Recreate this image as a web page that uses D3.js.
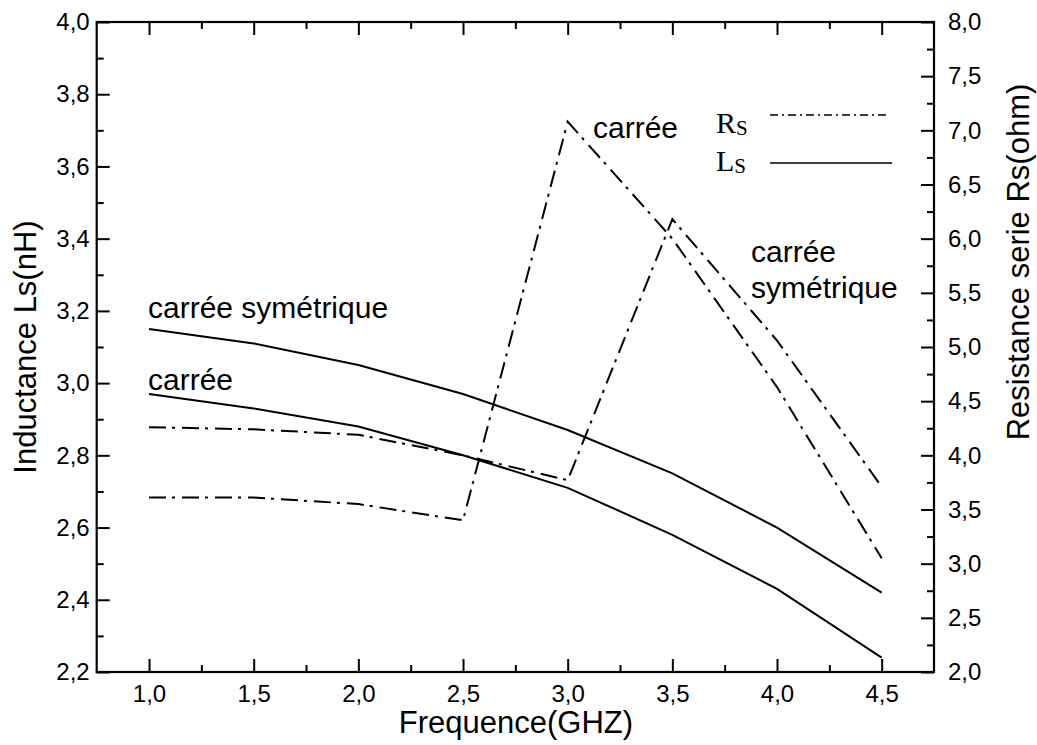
<!DOCTYPE html>
<html>
<head>
<meta charset="utf-8">
<script src="https://cdn.jsdelivr.net/npm/d3@7"></script>
<style>
  html, body { margin: 0; padding: 0; background: #fff; }
  svg { display: block; }
  text { font-family: "Liberation Sans", Arial, sans-serif; fill: #000; }
</style>
</head>
<body>
<svg id="chart" width="1037" height="745"></svg>
<script>
// Frequencies (GHz)
const freq = [1.0, 1.5, 2.0, 2.5, 3.0, 3.5, 4.0, 4.5];
// Series inductance Ls (nH)
const lsCarreeSym = [3.15, 3.11, 3.05, 2.97, 2.87, 2.75, 2.60, 2.42];
const lsCarree    = [2.97, 2.93, 2.88, 2.80, 2.71, 2.58, 2.43, 2.24];
// Series resistance Rs (ohm)
const rsCarree    = [3.61, 3.61, 3.55, 3.40, 7.08, 6.00, 4.63, 3.05];
const rsCarreeSym = [4.26, 4.24, 4.19, 4.00, 3.77, 6.18, 5.06, 3.71];
// Tick values
const xTicks  = [1.0, 1.5, 2.0, 2.5, 3.0, 3.5, 4.0, 4.5];
const xMinor  = [1.25, 1.75, 2.25, 2.75, 3.25, 3.75, 4.25];
const yLTicks = [2.2, 2.4, 2.6, 2.8, 3.0, 3.2, 3.4, 3.6, 3.8, 4.0];
const yLMinor = [2.3, 2.5, 2.7, 2.9, 3.1, 3.3, 3.5, 3.7, 3.9];
const yRTicks = [2.0, 2.5, 3.0, 3.5, 4.0, 4.5, 5.0, 5.5, 6.0, 6.5, 7.0, 7.5, 8.0];
const yRMinor = [2.25, 2.75, 3.25, 3.75, 4.25, 4.75, 5.25, 5.75, 6.25, 6.75, 7.25, 7.75];

const L = 96.7, R = 934, T = 22, B = 672;
const svg = d3.select("#chart");

const x  = d3.scaleLinear().domain([0.75, 4.75]).range([L, R]);
const yL = d3.scaleLinear().domain([2.2, 4.0]).range([B, T]);
const yR = d3.scaleLinear().domain([2.0, 8.0]).range([B, T]);

const fmt = d => d3.format(".1f")(d).replace(".", ",");
const MAJ = 13, MIN = 7;

function styleAxis(g) {
  g.select(".domain").remove();
  g.selectAll(".tick line").attr("stroke", "#000").attr("stroke-width", 2);
  g.selectAll("text").style("font-size", "24px")
    .style("font-family", '"Liberation Sans", Arial, sans-serif').attr("fill", "#000");
}

// bottom axis
const gb = svg.append("g").attr("transform", `translate(0,${B})`)
  .call(d3.axisBottom(x).tickValues(xTicks).tickFormat(fmt).tickSizeInner(-MAJ).tickSizeOuter(0).tickPadding(12));
styleAxis(gb);
gb.selectAll("text").attr("dy", "0.75em");
svg.append("g").attr("transform", `translate(0,${B})`)
  .call(d3.axisBottom(x).tickValues(xMinor).tickFormat("").tickSizeInner(-MIN).tickSizeOuter(0))
  .call(styleAxis);

// top axis
svg.append("g").attr("transform", `translate(0,${T})`)
  .call(d3.axisTop(x).tickValues(xTicks).tickFormat("").tickSizeInner(-MAJ).tickSizeOuter(0))
  .call(styleAxis);
svg.append("g").attr("transform", `translate(0,${T})`)
  .call(d3.axisTop(x).tickValues(xMinor).tickFormat("").tickSizeInner(-MIN).tickSizeOuter(0))
  .call(styleAxis);

// left axis (Ls)
svg.append("g").attr("transform", `translate(${L},0)`)
  .call(d3.axisLeft(yL).tickValues(yLTicks).tickFormat(fmt).tickSizeInner(-MAJ).tickSizeOuter(0).tickPadding(7))
  .call(styleAxis);
svg.append("g").attr("transform", `translate(${L},0)`)
  .call(d3.axisLeft(yL).tickValues(yLMinor).tickFormat("").tickSizeInner(-MIN).tickSizeOuter(0))
  .call(styleAxis);

// right axis (Rs)
svg.append("g").attr("transform", `translate(${R},0)`)
  .call(d3.axisRight(yR).tickValues(yRTicks).tickFormat(fmt).tickSizeInner(-MAJ).tickSizeOuter(0).tickPadding(14))
  .call(styleAxis);
svg.append("g").attr("transform", `translate(${R},0)`)
  .call(d3.axisRight(yR).tickValues(yRMinor).tickFormat("").tickSizeInner(-MIN).tickSizeOuter(0))
  .call(styleAxis);

// frame
svg.append("rect").attr("x", L).attr("y", T).attr("width", R - L).attr("height", B - T)
  .attr("fill", "none").attr("stroke", "#000").attr("stroke-width", 2.2);

// data lines
const lineL = d3.line().x((d, i) => x(freq[i])).y(d => yL(d));
const lineR = d3.line().x((d, i) => x(freq[i])).y(d => yR(d));
const dashDot = "17,6,3,7";

[lsCarreeSym, lsCarree].forEach(s => {
  svg.append("path").datum(s).attr("d", lineL)
    .attr("fill", "none").attr("stroke", "#000").attr("stroke-width", 2);
});
[rsCarree, rsCarreeSym].forEach(s => {
  svg.append("path").datum(s).attr("d", lineR)
    .attr("fill", "none").attr("stroke", "#000").attr("stroke-width", 2)
    .attr("stroke-dasharray", dashDot);
});

// curve labels
const lab = (t, px, py) => svg.append("text").attr("x", px).attr("y", py)
  .style("font-size", "30px").text(t);
lab("carrée symétrique", 148, 318);
lab("carrée", 148, 390);
lab("carrée", 593, 138);
lab("carrée", 751, 262);
lab("symétrique", 751, 298);

// legend
const serif = '"Liberation Serif", "Times New Roman", serif';
const lg = svg.append("g");
const rs = lg.append("text").attr("x", 716).attr("y", 133).style("font-family", serif).style("font-size", "30px");
rs.append("tspan").text("R");
rs.append("tspan").attr("dy", 2).style("font-size", "21px").text("S");
const ls = lg.append("text").attr("x", 716).attr("y", 171).style("font-family", serif).style("font-size", "30px");
ls.append("tspan").text("L");
ls.append("tspan").attr("dy", 2).style("font-size", "21px").text("S");
lg.append("line").attr("x1", 770).attr("x2", 889).attr("y1", 115).attr("y2", 115)
  .attr("stroke", "#000").attr("stroke-width", 1.6).attr("stroke-dasharray", "8,4,2,4");
lg.append("line").attr("x1", 770).attr("x2", 892).attr("y1", 163).attr("y2", 163)
  .attr("stroke", "#000").attr("stroke-width", 1.6);

// axis titles
svg.append("text").attr("x", 516).attr("y", 733).attr("text-anchor", "middle")
  .style("font-size", "31px").text("Frequence(GHZ)");
svg.append("text").attr("transform", `translate(36,${(T + B) / 2}) rotate(-90)`)
  .attr("text-anchor", "middle").style("font-size", "31px").text("Inductance Ls(nH)");
svg.append("text").attr("transform", `translate(1029,262) rotate(-90)`)
  .attr("text-anchor", "middle").style("font-size", "31px").text("Resistance serie Rs(ohm)");
</script>
</body>
</html>
